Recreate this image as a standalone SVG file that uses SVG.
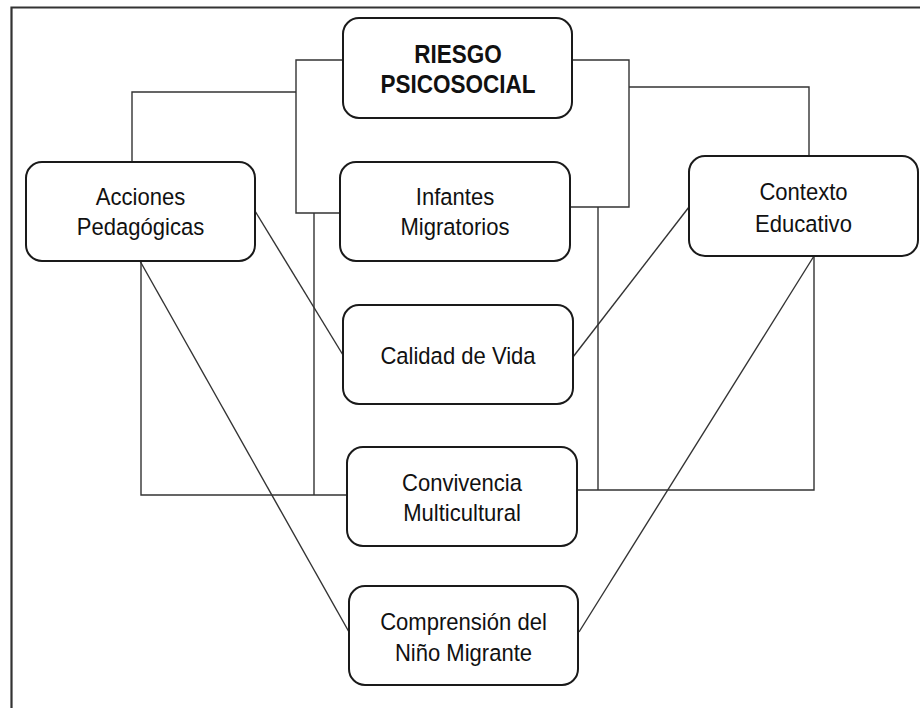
<svg xmlns="http://www.w3.org/2000/svg" width="920" height="708" viewBox="0 0 920 708">
<style>
.box{fill:#fff;stroke:#1a1a1a;stroke-width:2}
.t{font-family:"Liberation Sans",Arial,sans-serif;font-size:24.5px;fill:#111;text-anchor:middle}
.b{font-weight:bold;font-size:25px}
.c{fill:none;stroke:#333;stroke-width:1.4}
.f{fill:none;stroke:#333;stroke-width:2.2}
</style>
<rect width="920" height="708" fill="#fff"/>
<path class="f" d="M11.5,708 V7.5 H920"/>
<g id="connectors">
<polyline class="c" points="343,60 296,60 296,213 340,213"/>
<polyline class="c" points="296,92 132,92 132,162"/>
<polyline class="c" points="572,60 629,60 629,207 570,207"/>
<polyline class="c" points="629,87 809,87 809,156"/>
<polyline class="c" points="314,213 314,495"/>
<polyline class="c" points="598,207 598,490"/>
<polyline class="c" points="141,261 141,495 347,495"/>
<polyline class="c" points="814,256 814,490 577,490"/>
<line class="c" x1="255" y1="211" x2="343" y2="355"/>
<line class="c" x1="689" y1="207" x2="573" y2="357"/>
<line class="c" x1="140" y1="261" x2="349" y2="632"/>
<line class="c" x1="814" y1="256" x2="579" y2="632"/>
</g>
<g id="riesgo">
<rect class="box" x="343" y="18" width="229" height="100" rx="16"/>
<g transform="translate(458,0) scale(0.9,1)">
<text class="t b" x="0" y="63">RIESGO</text>
<text class="t b" x="0" y="93">PSICOSOCIAL</text>
</g>
</g>
<g id="acciones">
<rect class="box" x="26" y="162" width="229" height="99" rx="16"/>
<g transform="translate(140.5,0) scale(0.9,1)">
<text class="t" x="0" y="205">Acciones</text>
<text class="t" x="0" y="235">Pedagógicas</text>
</g>
</g>
<g id="infantes">
<rect class="box" x="340" y="162" width="230" height="99" rx="16"/>
<g transform="translate(455,0) scale(0.9,1)">
<text class="t" x="0" y="205">Infantes</text>
<text class="t" x="0" y="235">Migratorios</text>
</g>
</g>
<g id="contexto">
<rect class="box" x="689" y="156" width="229" height="100" rx="16"/>
<g transform="translate(803.5,0) scale(0.9,1)">
<text class="t" x="0" y="200">Contexto</text>
<text class="t" x="0" y="232">Educativo</text>
</g>
</g>
<g id="calidad">
<rect class="box" x="343" y="305" width="230" height="99" rx="16"/>
<g transform="translate(458,0) scale(0.9,1)">
<text class="t" x="0" y="364">Calidad de Vida</text>
</g>
</g>
<g id="convivencia">
<rect class="box" x="347" y="447" width="230" height="99" rx="16"/>
<g transform="translate(462,0) scale(0.9,1)">
<text class="t" x="0" y="491">Convivencia</text>
<text class="t" x="0" y="521">Multicultural</text>
</g>
</g>
<g id="comprension">
<rect class="box" x="349" y="586" width="229" height="99" rx="16"/>
<g transform="translate(463.5,0) scale(0.9,1)">
<text class="t" x="0" y="630">Comprensión del</text>
<text class="t" x="0" y="661">Niño Migrante</text>
</g>
</g>
</svg>
